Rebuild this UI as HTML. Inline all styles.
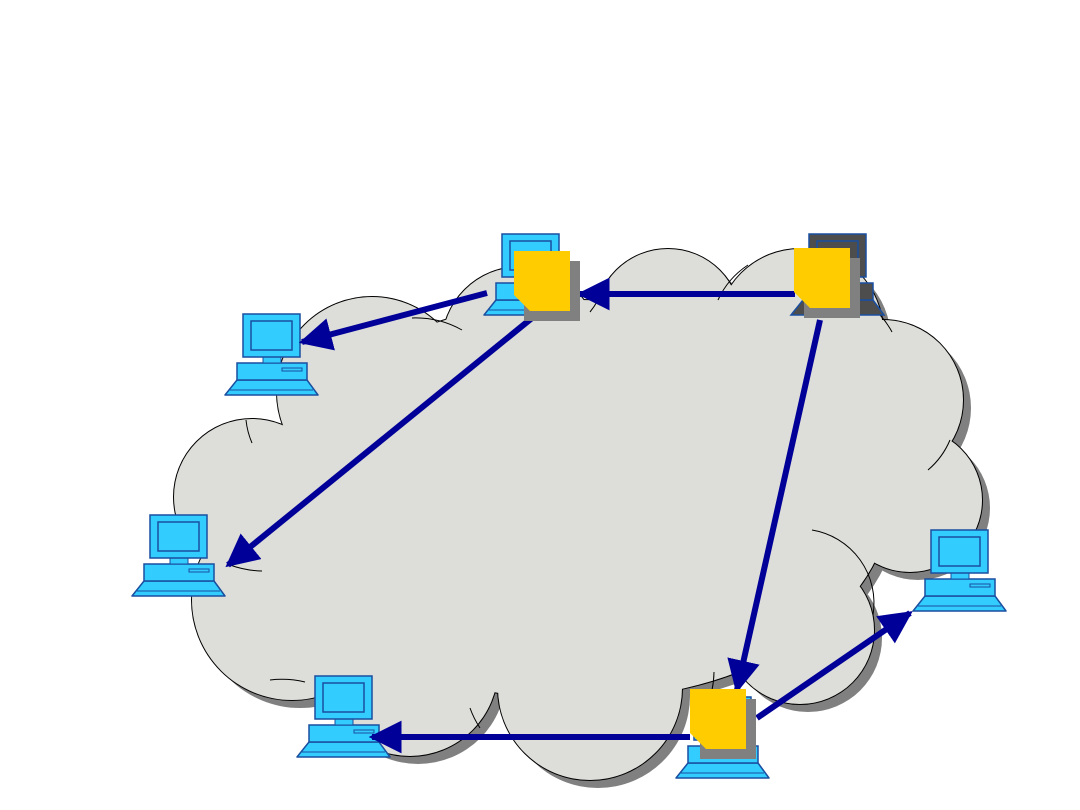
<!DOCTYPE html>
<html><head><style>body{margin:0;background:#fff}svg{display:block}</style></head><body>
<svg width="1080" height="810" viewBox="0 0 1080 810" xmlns="http://www.w3.org/2000/svg">
<defs>
<g id="lobes">
<circle cx="372" cy="392" r="95"/>
<circle cx="520" cy="345" r="78"/>
<circle cx="668" cy="322" r="73"/>
<circle cx="800" cy="332" r="83"/>
<circle cx="883" cy="400" r="80"/>
<circle cx="910" cy="500" r="72"/>
<circle cx="800" cy="630" r="74"/>
<circle cx="590" cy="688" r="92"/>
<circle cx="410" cy="668" r="88"/>
<circle cx="292" cy="600" r="100"/>
<circle cx="252" cy="497" r="78"/>
<ellipse cx="580" cy="500" rx="310" ry="200"/>
</g>
<g id="pc">
<polygon points="0,81 12,66 82,66 93,81" fill="#33ccff" stroke="#1a4fa0" stroke-width="1.5" stroke-linejoin="round"/>
<line x1="5" y1="76" x2="88" y2="76" stroke="#1a4fa0"/>
<rect x="12" y="49" width="70" height="17" fill="#33ccff" stroke="#1a4fa0" stroke-width="1.5"/>
<rect x="57" y="54" width="20" height="3" fill="none" stroke="#1a4fa0"/>
<rect x="38" y="43" width="18" height="6" fill="#33ccff" stroke="#1a4fa0"/>
<rect x="18" y="0" width="57" height="43" fill="#33ccff" stroke="#1a4fa0" stroke-width="1.5"/>
<rect x="26" y="7" width="41" height="29" fill="#33ccff" stroke="#1a4fa0" stroke-width="1.5"/>
</g>
<g id="doc">
<rect x="10" y="10" width="56" height="60" fill="#808080"/>
<polygon points="0,0 56,0 56,60 16,60 0,44" fill="#ffcc00"/>
</g>
<marker id="ah" viewBox="0 0 10 10" refX="9" refY="5" markerWidth="5.5" markerHeight="5.5" orient="auto" markerUnits="strokeWidth">
<path d="M0,0 L10,5 L0,10 z" fill="#000099"/>
</marker>
</defs>
<use href="#lobes" transform="translate(8,8)" fill="#808080"/>
<use href="#lobes" fill="#ddddd9" stroke="#000" stroke-width="2"/>
<use href="#lobes" fill="#ddddd9"/>
<g fill="none" stroke="#000" stroke-width="1">
<path d="M252,443 A78,78 0 0 1 246,420"/>
<path d="M412,318 A95,95 0 0 1 462,330"/>
<path d="M598,300 A78,78 0 0 1 590,312"/>
<path d="M718,300 A83,83 0 0 1 748,265"/>
<path d="M880,315 A83,83 0 0 1 892,332"/>
<path d="M928,470 A80,80 0 0 0 950,440"/>
<path d="M812,530 A74,74 0 0 1 873,615"/>
<path d="M470,708 A92,92 0 0 0 480,728"/>
<path d="M714,672 A92,92 0 0 1 712,690"/>
<path d="M230,565 A100,100 0 0 0 262,571"/>
<path d="M270,680 A100,100 0 0 1 305,682"/>
</g>
<use href="#pc" x="225" y="314"/>
<use href="#pc" x="132" y="515"/>
<use href="#pc" x="297" y="676"/>
<use href="#pc" x="913" y="530"/>
<use href="#pc" x="484" y="234"/>
<use href="#pc" x="676" y="697"/>
<g transform="translate(791,234)">
<polygon points="0,81 12,66 82,66 93,81" fill="#4d4d4d" stroke="#1a4fa0" stroke-width="1.5"/>
<rect x="12" y="49" width="70" height="17" fill="#4d4d4d" stroke="#1a4fa0" stroke-width="1.5"/>
<rect x="18" y="0" width="57" height="43" fill="#4d4d4d" stroke="#1a4fa0" stroke-width="1.5"/>
<rect x="26" y="7" width="41" height="29" fill="#4d4d4d" stroke="#1a4fa0" stroke-width="1.5"/>
</g>
<g stroke="#000099" stroke-width="6" fill="none" marker-end="url(#ah)">
<line x1="795" y1="294" x2="580" y2="294"/>
<line x1="487" y1="293" x2="302" y2="342"/>
<line x1="532" y1="318" x2="228" y2="565"/>
<line x1="820" y1="320" x2="737" y2="690"/>
<line x1="690" y1="737" x2="372" y2="737"/>
<line x1="757" y1="718" x2="910" y2="613"/>
</g>
<use href="#doc" x="514" y="251"/>
<use href="#doc" x="794" y="248"/>
<use href="#doc" x="690" y="689"/>
</svg>
</body></html>
